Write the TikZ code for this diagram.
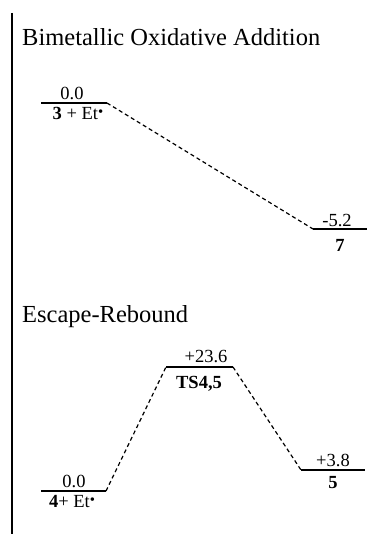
\documentclass[tikz,border=0pt]{standalone}
\usepackage{fontspec}
\setmainfont{Liberation Serif}
\begin{document}
\begin{tikzpicture}[x=1pt,y=-1pt,
  level/.style={line width=1.6pt},
  conn/.style={line width=1.2pt,dash pattern=on 4pt off 3pt},
  axisline/.style={line width=1.5pt},
  ttl/.style={anchor=base west,inner sep=0pt,font=\fontsize{24.5}{28}\selectfont},
  lbl/.style={anchor=base,inner sep=0pt,font=\fontsize{18.5}{22}\selectfont}]
\useasboundingbox (0,0) rectangle (367,534);
% vertical axis
\coordinate (axT) at (12,13);
\coordinate (axB) at (12,534);
\draw[axisline] (axT) -- (axB);
% titles
\node[ttl] (t1) at (22,46) {Bimetallic Oxidative Addition};
\node[ttl] (t2) at (22,322) {Escape-Rebound};
% top diagram levels
\coordinate (A1) at (41,103); \coordinate (A2) at (107,103);
\coordinate (B1) at (313,229); \coordinate (B2) at (367,229);
\draw[level] (A1) -- (A2);
\draw[level] (B1) -- (B2);
\draw[conn] (A2) -- (B1);
\node[lbl] (a0) at (72,100) {0.0};
\node[lbl] (a1) at (78,119.5) {\textbf{3} + Et\raisebox{0.3ex}{\scalebox{0.8}{•}}};
\node[lbl] (b0) at (337,226) {-5.2};
\node[lbl] (b1) at (340,251) {\textbf{7}};
% bottom diagram levels
\coordinate (C1) at (41,491); \coordinate (C2) at (106,491);
\coordinate (D1) at (166,367); \coordinate (D2) at (233,367);
\coordinate (E1) at (301,470); \coordinate (E2) at (365,470);
\draw[level] (C1) -- (C2);
\draw[level] (D1) -- (D2);
\draw[level] (E1) -- (E2);
\draw[conn] (C2) -- (D1);
\draw[conn] (D2) -- (E1);
\node[lbl] (c0) at (74,487.5) {0.0};
\node[lbl] (c1) at (72,507.5) {\textbf{4}+ Et\raisebox{0.3ex}{\scalebox{0.8}{•}}};
\node[lbl] (d0) at (206,362.5) {+23.6};
\node[lbl] (d1) at (199,388) {\textbf{TS4,5}};
\node[lbl] (e0) at (333,466.5) {+3.8};
\node[lbl] (e1) at (333,488) {\textbf{5}};
\end{tikzpicture}
\end{document}
